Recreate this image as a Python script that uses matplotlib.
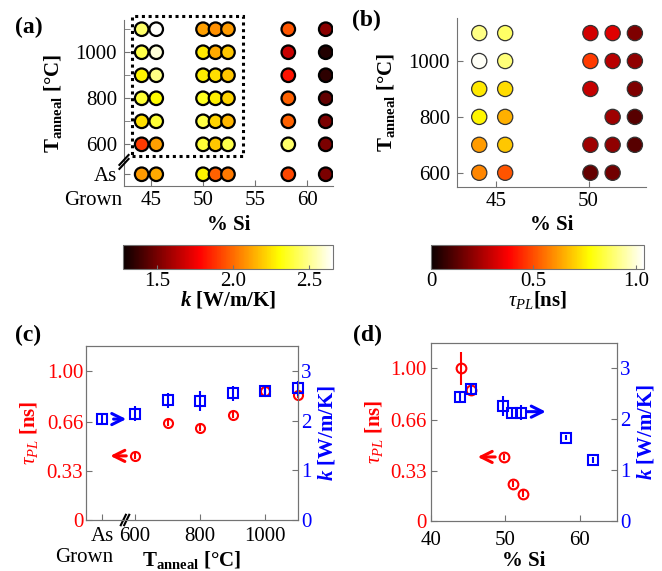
import numpy as np
import matplotlib
matplotlib.use('Agg')
import matplotlib.pyplot as plt
from matplotlib.patches import Rectangle
from matplotlib.colors import Normalize
from matplotlib.cm import ScalarMappable

plt.rcParams['font.family'] = 'Liberation Serif'
plt.rcParams['mathtext.fontset'] = 'custom'
plt.rcParams['mathtext.rm'] = 'Liberation Serif'
plt.rcParams['mathtext.it'] = 'Liberation Serif:italic'
plt.rcParams['mathtext.bf'] = 'Liberation Serif:bold'
plt.rcParams['mathtext.bfit'] = 'Liberation Serif:italic:bold'
plt.rcParams['font.size'] = 15

# ---- data ----
# (a) thermal conductivity k [W/m/K] for each anneal temperature row
si_a = [44.1, 45.5, 50.0, 51.2, 52.4, 58.2, 61.8]
rows_a = [1100, 1000, 900, 800, 700, 600, 'As grown']
k_map = [
    [2.45, 2.65, 2.11, 2.08, 2.10, 1.96, 1.54],
    [2.41, 2.60, 2.26, 2.13, 2.19, 1.67, 1.33],
    [2.29, 2.49, 2.27, 2.24, 2.19, 1.82, 1.35],
    [2.38, 2.30, 2.35, 2.27, 2.22, 1.98, 1.46],
    [2.24, 2.38, 2.40, 2.22, 2.16, 1.98, 1.51],
    [1.90, 2.11, 2.38, 2.19, 2.41, 2.45, 1.51],
    [2.10, 2.13, 2.29, 1.98, 2.03, 1.93, 1.51],
]

# (b) PL lifetime tau [ns]
si_b = [44.1, 45.5, 50.1, 51.3, 52.5]
rows_b = [1100, 1000, 900, 800, 700, 600]
tau_map = [
    [0.91, 0.88, 0.31, 0.33, 0.18],
    [1.03, 0.90, 0.47, 0.27, 0.21],
    [0.74, 0.72, 0.29, np.nan, 0.18],
    [0.76, 0.65, np.nan, 0.23, 0.12],
    [0.62, 0.69, 0.23, 0.21, 0.12],
    [0.585, 0.51, 0.14, 0.16, np.nan],
]

# (c) vs anneal temperature (first entry = as grown)
t_c = ['As grown', 600, 700, 800, 900, 1000, 1100]
tau_c = [np.nan, 0.43, 0.648, 0.616, 0.705, 0.864, 0.84]
tau_c_err = [0, 0.02, 0.02, 0.02, 0.02, 0.02, 0.02]
k_c = [2.04, 2.14, 2.41, 2.40, 2.55, 2.60, 2.65]
k_c_err = [0.08, 0.15, 0.15, 0.2, 0.15, 0.12, 0.15]

# (d) vs Si content
si_d_tau = [44.0, 45.4, 49.8, 51.0, 52.3]
tau_d = [1.00, 0.86, 0.42, 0.24, 0.18]
tau_d_err = [0.11, 0.03, 0.02, 0.02, 0.02]
si_d_k = [43.9, 45.4, 49.7, 50.9, 52.1, 58.2, 61.8]
k_d = [2.44, 2.60, 2.26, 2.12, 2.13, 1.64, 1.20]
k_d_err = [0.12, 0.12, 0.2, 0.1, 0.15, 0.05, 0.05]

AS_GROWN_A = 470   # where the as-grown row sits on the T axis of (a)
AS_GROWN_C = 500   # same for (c)

def tval(t, asg):
    return asg if t == 'As grown' else t

W, H = 662, 571
fig = plt.figure(figsize=(W / 100, H / 100), dpi=100)

def box(l, t, r, b):
    return [l / W, (H - b) / H, (r - l) / W, (b - t) / H]

gray = '0.45'

def style(ax, all_spines=False):
    for s in ['top', 'right']:
        ax.spines[s].set_visible(all_spines)
    for s in ax.spines.values():
        s.set_color(gray)
    ax.tick_params(which='both', direction='in', color=gray, length=4, labelsize=15)

def brk(ax, x, y, dx, dy, offsets):
    for ox, oy in offsets:
        ax.plot([x - dx + ox, x + dx + ox], [y - dy + oy, y + dy + oy],
                transform=ax.transAxes, color='k', lw=1.5, clip_on=False, zorder=10)

arrow = dict(arrowstyle='->', lw=2.2, mutation_scale=20)

# ---- (a) ----
ax_a = fig.add_axes(box(124, 20, 333, 186))
norm_a = Normalize(1.278, 2.658)
X, Y, C = [], [], []
for r, row in zip(rows_a, k_map):
    for s, v in zip(si_a, row):
        X.append(s); Y.append(tval(r, AS_GROWN_A)); C.append(v)
ax_a.scatter(X, Y, c=C, cmap='hot', norm=norm_a, s=95, edgecolors='k', linewidths=1.6, zorder=3)
ax_a.add_patch(Rectangle((43.2, 549), 10.65, 609, fill=False, ls=(0, (1, 1.2)), lw=2.2,
                         color='k', clip_on=False, zorder=4))
ax_a.set_xlim(42.4, 62.5)
ax_a.set_ylim(419, 1140)
ax_a.set_xticks([45, 50, 55, 60])
ax_a.set_yticks([AS_GROWN_A, 600, 800, 1000])
ax_a.set_yticklabels(['As', '600', '800', '1000'])
ax_a.set_yticks([700, 900, 1100], minor=True)
style(ax_a)
ax_a.tick_params(axis='y', pad=5)
ax_a.set_xlabel('% Si', fontweight='bold', labelpad=4)
ax_a.set_ylabel(r'$\mathbf{T}_{\mathbf{anneal}}$ [°C]', fontweight='bold', labelpad=8)
ax_a.text(-0.146, -0.085, 'Grown', transform=ax_a.transAxes, ha='center', va='center', fontsize=15)
brk(ax_a, 0.0, 0.145, 0.022, 0.03, [(0.0, -0.012), (0.0, 0.012)])
fig.text(15 / W, 1 - 27 / H, '(a)', fontsize=17, fontweight='bold', va='center')

# ---- (b) ----
ax_b = fig.add_axes(box(457, 18, 646, 187))
norm_b = Normalize(0, 1.04)
X, Y, C = [], [], []
for r, row in zip(rows_b, tau_map):
    for s, v in zip(si_b, row):
        if not np.isnan(v):
            X.append(s); Y.append(r); C.append(v)
ax_b.scatter(X, Y, c=C, cmap='hot', norm=norm_b, s=120, edgecolors='0.2', linewidths=0.9, zorder=3)
ax_b.set_xlim(42.9, 53.1)
ax_b.set_ylim(549, 1154)
ax_b.set_xticks([45, 50])
ax_b.set_yticks([600, 800, 1000])
style(ax_b)
ax_b.tick_params(axis='y', pad=5)
ax_b.set_xlabel('% Si', fontweight='bold', labelpad=3)
ax_b.set_ylabel(r'$\mathbf{T}_{\mathbf{anneal}}$ [°C]', fontweight='bold', labelpad=8)
fig.text(352 / W, 1 - 20 / H, '(b)', fontsize=17, fontweight='bold', va='center')

# ---- colorbars ----
for rect, norm, ticks, tl, lab in [
        (box(123, 245, 333, 269), norm_a, [1.5, 2.0, 2.5], ['1.5', '2.0', '2.5'],
         r'$\mathbfit{k}$ [W/m/K]'),
        (box(431, 245, 644, 269), norm_b, [0, 0.5, 1.0], ['0', '0.5', '1.0'],
         r'$\tau_{PL}$[ns]')]:
    cax = fig.add_axes(rect)
    cb = fig.colorbar(ScalarMappable(norm=norm, cmap='hot'), cax=cax, orientation='horizontal')
    cb.set_ticks(ticks)
    cb.set_ticklabels(tl)
    cb.outline.set_edgecolor(gray)
    cax.tick_params(direction='in', color=gray, length=3, labelsize=15, pad=2)
    cb.set_label(lab, fontweight='bold', fontsize=15, labelpad=-1)

# ---- (c) ----
ax_c = fig.add_axes(box(86, 346, 298, 520))
xc = [tval(t, AS_GROWN_C) for t in t_c]
ax_c.errorbar(xc, tau_c, yerr=tau_c_err, fmt='o', mfc='none', mec='red', ecolor='red',
              ms=6.5, mew=1.5, elinewidth=1.5, capsize=0, clip_on=False)
ax_c.set_xlim(450, 1100)
ax_c.set_ylim(0, 1.167)
ax_c.set_xticks([AS_GROWN_C, 600, 800, 1000])
ax_c.set_xticklabels(['As', '600', '800', '1000'])
ax_c.set_yticks([0, 0.33, 0.66, 1.0])
ax_c.set_yticklabels(['0', '0.33', '0.66', '1.00'])
style(ax_c, True)
ax_c.tick_params(axis='y', labelcolor='red', pad=2)
ax_c.tick_params(axis='x', pad=5)
ax_c.set_ylabel(r'$\tau_{PL}$ [ns]', color='red', fontweight='bold', labelpad=5)
ax_c.set_xlabel(r'$\mathbf{T}_{\mathbf{anneal}}$ [°C]', fontweight='bold', labelpad=2)
ax_c.text(-0.01, -0.213, 'Grown', transform=ax_c.transAxes, ha='center', va='center', fontsize=15)
ax_c2 = ax_c.twinx()
ax_c2.errorbar(xc, k_c, yerr=k_c_err, fmt='s', mfc='none', mec='blue', ecolor='blue',
               ms=7.5, mew=1.5, elinewidth=1.5, capsize=0, clip_on=False)
ax_c2.set_ylim(0, 3.5)
ax_c2.set_yticks([0, 1, 2, 3])
style(ax_c2, True)
ax_c2.tick_params(axis='y', labelcolor='blue', pad=2)
ax_c2.set_ylabel(r'$\mathbfit{k}$ [W/m/K]', color='blue', fontweight='bold', labelpad=4)
ax_c.annotate('', xy=(516, 0.43), xytext=(582, 0.43), arrowprops=dict(arrow, color='red'))
ax_c2.annotate('', xy=(582, 2.03), xytext=(526, 2.03), arrowprops=dict(arrow, color='blue'))
brk(ax_c, 0.184, 0.0, 0.012, 0.03, [(-0.008, 0), (0.008, 0)])
fig.text(15 / W, 1 - 335 / H, '(c)', fontsize=17, fontweight='bold', va='center')

# ---- (d) ----
ax_d = fig.add_axes(box(431, 343, 617, 521))
ax_d.errorbar(si_d_tau, tau_d, yerr=tau_d_err, fmt='o', mfc='none', mec='red', ecolor='red',
              ms=7, mew=1.5, elinewidth=1.5, capsize=0)
ax_d.set_xlim(40, 65)
ax_d.set_ylim(0, 1.167)
ax_d.set_xticks([40, 50, 60])
ax_d.set_yticks([0, 0.33, 0.66, 1.0])
ax_d.set_yticklabels(['0', '0.33', '0.66', '1.00'])
style(ax_d, True)
ax_d.tick_params(axis='y', labelcolor='red', pad=3)
ax_d.tick_params(axis='x', pad=7)
ax_d.set_ylabel(r'$\tau_{PL}$ [ns]', color='red', fontweight='bold', labelpad=4)
ax_d.set_xlabel('% Si', fontweight='bold', labelpad=1)
ax_d2 = ax_d.twinx()
ax_d2.errorbar(si_d_k, k_d, yerr=k_d_err, fmt='s', mfc='none', mec='blue', ecolor='blue',
               ms=7.5, mew=1.5, elinewidth=1.5, capsize=0)
ax_d2.set_ylim(0, 3.5)
ax_d2.set_yticks([0, 1, 2, 3])
style(ax_d2, True)
ax_d2.tick_params(axis='y', labelcolor='blue', pad=2)
ax_d2.set_ylabel(r'$\mathbfit{k}$ [W/m/K]', color='blue', fontweight='bold', labelpad=4)
ax_d.annotate('', xy=(45.9, 0.42), xytext=(49.0, 0.42), arrowprops=dict(arrow, color='red'))
ax_d2.annotate('', xy=(55.8, 2.15), xytext=(52.6, 2.15), arrowprops=dict(arrow, color='blue'))
fig.text(353 / W, 1 - 335 / H, '(d)', fontsize=17, fontweight='bold', va='center')

fig.savefig('out.png', dpi=100, facecolor='white')
